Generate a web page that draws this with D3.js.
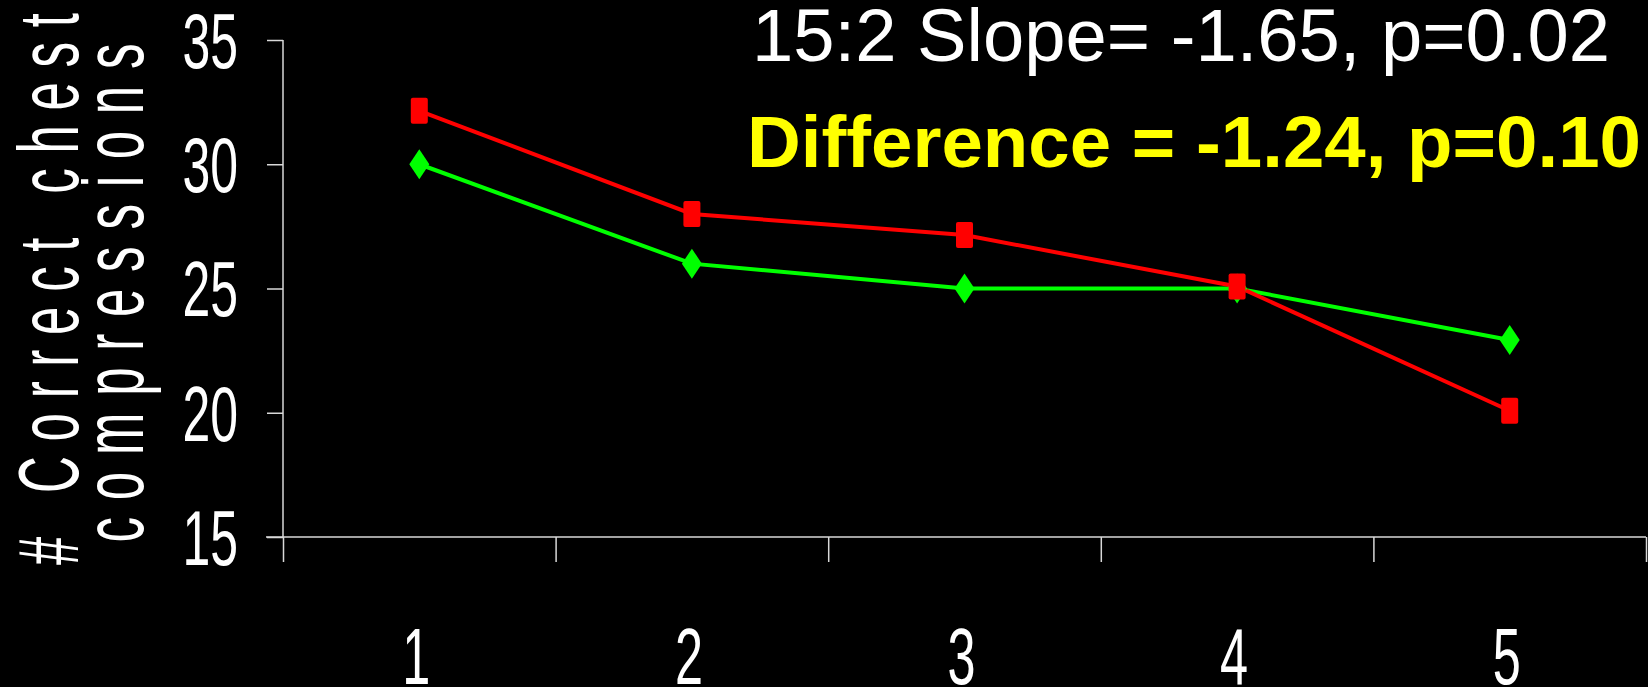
<!DOCTYPE html>
<html>
<head>
<meta charset="utf-8">
<script src="https://cdn.jsdelivr.net/npm/d3@7"></script>
<style>
  html, body { margin: 0; padding: 0; background: #000; }
  svg { display: block; }
  text { font-family: "Liberation Sans", Arial, sans-serif; }
</style>
</head>
<body>
<svg id="chart" width="1648" height="687"></svg>
<script>
// ---- data ----
const categories = [1, 2, 3, 4, 5];
const seriesGreen = [30.0, 26.0, 25.0, 25.0, 22.93];
const seriesRed = [32.15, 28.0, 27.15, 25.08, 20.08];
const yTicks = [15, 20, 25, 30, 35];
const titleLine1 = "15:2 Slope= -1.65, p=0.02";
const titleLine2 = "Difference = -1.24, p=0.10";
const yTitleLines = ["# Correct chest", "compressions"];

(function () {
const W = 1648, H = 687;
const svg = d3.select("#chart");
svg.append("rect").attr("width", W).attr("height", H).attr("fill", "#000");

const axisColor = "#d8d8d8";
const pLeft = 283, pRight = 1646, pTop = 40, pBottom = 537;

const x = d3.scaleLinear().domain([0.5, 5.5]).range([pLeft, pRight]);
const y = d3.scaleLinear().domain([15, 35]).range([pBottom, pTop]);

// y axis
const yAxis = svg.append("g")
  .attr("transform", `translate(${pLeft},0)`)
  .call(d3.axisLeft(y).tickValues(yTicks).tickSize(16).tickFormat(""));
yAxis.selectAll("path, line").attr("stroke", axisColor).attr("stroke-width", 1.5);
yAxis.select(".domain").attr("d", `M0,${pTop}V${pBottom}`);

// x axis
const xBounds = d3.range(0.5, 6, 1);
const xAxis = svg.append("g")
  .attr("transform", `translate(0,${pBottom})`)
  .call(d3.axisBottom(x).tickValues(xBounds).tickSize(25).tickFormat(""));
xAxis.selectAll("path, line").attr("stroke", axisColor).attr("stroke-width", 1.5);
xAxis.select(".domain").attr("d", `M${pLeft - 17},0H${pRight}`);

// y tick labels
svg.append("g").selectAll("text").data(yTicks).join("text")
  .attr("transform", d => `translate(238,${y(d)}) scale(0.64,1)`)
  .attr("text-anchor", "end")
  .attr("dy", "0.358em")
  .attr("font-size", 78)
  .attr("fill", "#fff")
  .text(d => d);

// x tick labels
svg.append("g").selectAll("text").data(categories).join("text")
  .attr("transform", d => `translate(${x(d) - 3},684) scale(0.63,1)`)
  .attr("text-anchor", "middle")
  .attr("font-size", 80)
  .attr("fill", "#fff")
  .text(d => d);

// y axis title (two rotated lines, compressed glyphs, wide spacing)
const yTitlePos = [{bx: 78, cy: 289, len: 552}, {bx: 143, cy: 293, len: 499}];
const sx = 0.6;
svg.append("g").selectAll("text").data(yTitleLines).join("text")
  .attr("transform", (d, i) => `translate(${yTitlePos[i].bx},${yTitlePos[i].cy}) rotate(-90) scale(${sx},1)`)
  .attr("text-anchor", "middle")
  .attr("font-size", 85)
  .attr("fill", "#fff")
  .attr("textLength", (d, i) => yTitlePos[i].len / sx)
  .attr("lengthAdjust", "spacing")
  .text(d => d);

// lines
const line = d3.line().x((d, i) => x(categories[i])).y(d => y(d));
svg.append("path").datum(seriesGreen).attr("d", line)
  .attr("fill", "none").attr("stroke", "#00ff00").attr("stroke-width", 4);
svg.append("path").datum(seriesRed).attr("d", line)
  .attr("fill", "none").attr("stroke", "#ff0000").attr("stroke-width", 4);

// green diamonds
svg.append("g").selectAll("path").data(seriesGreen).join("path")
  .attr("transform", (d, i) => `translate(${x(categories[i])},${y(d)})`)
  .attr("d", "M0,-15L10,0L0,15L-10,0Z")
  .attr("fill", "#00ff00");

// red squares
svg.append("g").selectAll("rect").data(seriesRed).join("rect")
  .attr("x", (d, i) => x(categories[i]) - 8.5)
  .attr("y", d => y(d) - 13)
  .attr("width", 17).attr("height", 26).attr("rx", 2)
  .attr("fill", "#ff0000");

// titles
svg.append("text")
  .attr("x", 752).attr("y", 61)
  .attr("font-size", 75)
  .attr("fill", "#fff")
  .attr("textLength", 858).attr("lengthAdjust", "spacingAndGlyphs")
  .text(titleLine1);
svg.append("text")
  .attr("x", 747).attr("y", 167)
  .attr("font-size", 73)
  .attr("font-weight", "bold")
  .attr("fill", "#ffff00")
  .attr("textLength", 894).attr("lengthAdjust", "spacingAndGlyphs")
  .text(titleLine2);
})();
</script>
</body>
</html>
